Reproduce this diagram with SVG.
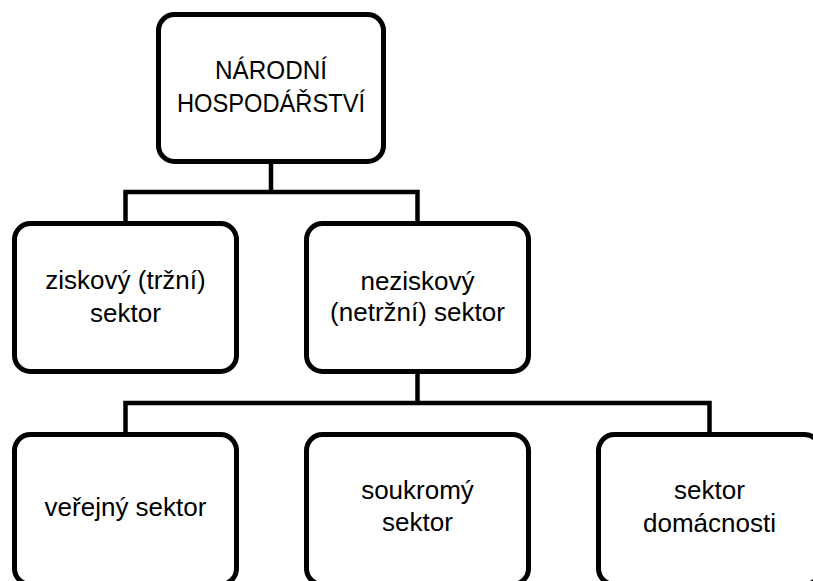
<svg xmlns="http://www.w3.org/2000/svg" width="813" height="581" viewBox="0 0 813 581">
<style>
.box{fill:#fff;stroke:#000;stroke-width:5}
.con{fill:none;stroke:#000;stroke-width:4.5}
.t{font-family:"Liberation Sans",Arial,sans-serif;font-size:26px;fill:#000;text-anchor:middle}
</style>
<rect width="813" height="581" fill="#fff"/>
<g id="connectors">
<path class="con" d="M271 162 V192 M125.5 223 V192 H417.5 V223"/>
<path class="con" d="M417.5 372 V403 M125.5 434 V403 H709.5 V434"/>
</g>
<g id="narodni">
<rect class="box" x="158.5" y="14.5" width="225" height="147" rx="16"/>
<text class="t" x="271" y="79" textLength="112" lengthAdjust="spacingAndGlyphs">NÁRODNÍ</text>
<text class="t" x="271" y="112" textLength="188" lengthAdjust="spacingAndGlyphs">HOSPODÁŘSTVÍ</text>
</g>
<g id="ziskovy">
<rect class="box" x="14.5" y="223.5" width="222" height="148" rx="16"/>
<text class="t" x="125.5" y="289">ziskový (tržní)</text>
<text class="t" x="125.5" y="322">sektor</text>
</g>
<g id="neziskovy">
<rect class="box" x="306.5" y="223.5" width="222" height="148" rx="16"/>
<text class="t" x="417.5" y="290">neziskový</text>
<text class="t" x="417.5" y="321">(netržní) sektor</text>
</g>
<g id="verejny">
<rect class="box" x="14.5" y="434.5" width="222" height="150" rx="16"/>
<text class="t" x="125.5" y="516">veřejný sektor</text>
</g>
<g id="soukromy">
<rect class="box" x="306.5" y="434.5" width="222" height="150" rx="16"/>
<text class="t" x="417.5" y="499">soukromý</text>
<text class="t" x="417.5" y="531">sektor</text>
</g>
<g id="domacnosti">
<rect class="box" x="598.5" y="434.5" width="222" height="150" rx="16"/>
<text class="t" x="709.5" y="499">sektor</text>
<text class="t" x="709.5" y="532">domácnosti</text>
</g>
</svg>
